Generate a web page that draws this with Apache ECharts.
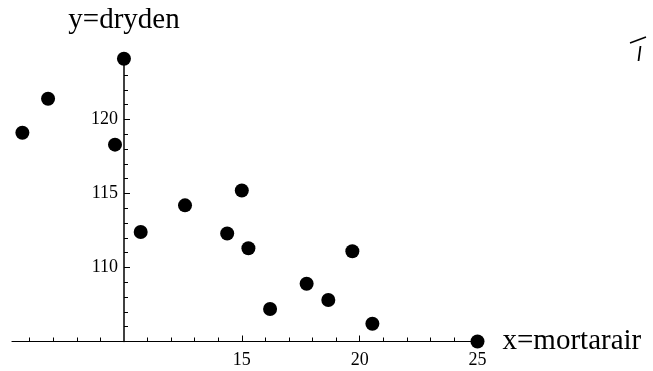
<!DOCTYPE html>
<html>
<head>
<meta charset="utf-8">
<script src="https://cdn.jsdelivr.net/npm/echarts@6/dist/echarts.min.js"></script>
<style>
  html, body { margin: 0; padding: 0; background: #fff; }
  #chart { width: 653px; height: 371px; }
</style>
</head>
<body>
<div id="chart"></div>
<script>
// mortarair vs dryden
var mortarair = [5.69, 6.78, 10.0, 9.62, 10.71, 12.59, 15.0, 14.38, 15.28, 16.2, 17.75, 18.67, 19.69, 20.54, 25.0];
var dryden = [119.1, 121.4, 124.1, 118.3, 112.4, 114.2, 115.2, 112.3, 111.3, 107.2, 108.9, 107.8, 111.1, 106.2, 105.0];

var xMajor = [15, 20, 25];
var xMinor = [6, 7, 8, 9, 11, 12, 13, 14, 16, 17, 18, 19, 21, 22, 23, 24];
var yMajor = [110, 115, 120];
var yMinor = [106, 107, 108, 109, 111, 112, 113, 114, 116, 117, 118, 119, 121, 122, 123];

(function() {
	var chart = echarts.init(document.getElementById("chart"));
	var font = "'Liberation Serif', 'Times New Roman', serif";

	var points = [];
	for (var i = 0; i < mortarair.length; i++) {
		points.push([mortarair[i], dryden[i]]);
	}

	var xMin = 5.25, xMax = 25, yMin = 105, yMax = 124;

	option = {
		animation: false,
		backgroundColor: '#fff',
		grid: {
			left: 12,
			right: 175.5,
			top: 60.3,
			bottom: 29.5
		},
		xAxis: [
			{
				type: 'value',
				position: 'bottom',
				min: xMin,
				max: xMax,
				name: 'x=mortarair',
				nameLocation: 'end',
				nameGap: 25,
				nameTextStyle: { fontFamily: font, fontSize: 29, color: '#000', verticalAlign: 'middle', align: 'left' },
				axisLine: { onZero: false, lineStyle: { color: '#000', width: 1.2 } },
				axisTick: { inside: true, length: 6, customValues: xMajor, lineStyle: { color: '#000' } },
				axisLabel: { customValues: xMajor, margin: 10, fontFamily: font, fontSize: 18, color: '#000' },
				splitLine: { show: false }
			},
			{
				type: 'value',
				position: 'bottom',
				min: xMin,
				max: xMax,
				axisLine: { show: false, onZero: false },
				axisTick: { inside: true, length: 4, customValues: xMinor, lineStyle: { color: '#000' } },
				axisLabel: { show: false },
				splitLine: { show: false }
			}
		],
		yAxis: [
			{
				type: 'value',
				position: 'left',
				offset: -112,
				min: yMin,
				max: yMax,
				name: 'y=dryden',
				nameLocation: 'end',
				nameGap: 40,
				nameTextStyle: { fontFamily: font, fontSize: 29, color: '#000', verticalAlign: 'middle', align: 'center' },
				axisLine: { onZero: false, lineStyle: { color: '#000', width: 1.5 } },
				axisTick: { inside: true, length: 6, customValues: yMajor, lineStyle: { color: '#000' } },
				axisLabel: { customValues: yMajor, margin: 6, fontFamily: font, fontSize: 18, color: '#000' },
				splitLine: { show: false }
			},
			{
				type: 'value',
				position: 'left',
				offset: -112,
				min: yMin,
				max: yMax,
				axisLine: { show: false, onZero: false },
				axisTick: { inside: true, length: 4, customValues: yMinor, lineStyle: { color: '#000' } },
				axisLabel: { show: false },
				splitLine: { show: false }
			}
		],
		graphic: [
			{
				type: 'polyline',
				shape: { points: [[630, 43], [646, 37]] },
				style: { stroke: '#000', lineWidth: 1.5, fill: null }
			},
			{
				type: 'polyline',
				shape: { points: [[640.5, 46], [638.5, 61]] },
				style: { stroke: '#000', lineWidth: 1.8, fill: null }
			}
		],
		series: [
			{
				name: 'dryden',
				type: 'scatter',
				xAxisIndex: 0,
				yAxisIndex: 0,
				symbol: 'circle',
				symbolSize: 14,
				clip: false,
				itemStyle: { color: '#000', opacity: 1 },
				data: points
			}
		]
	};

	chart.setOption(option);
})();
</script>
</body>
</html>
